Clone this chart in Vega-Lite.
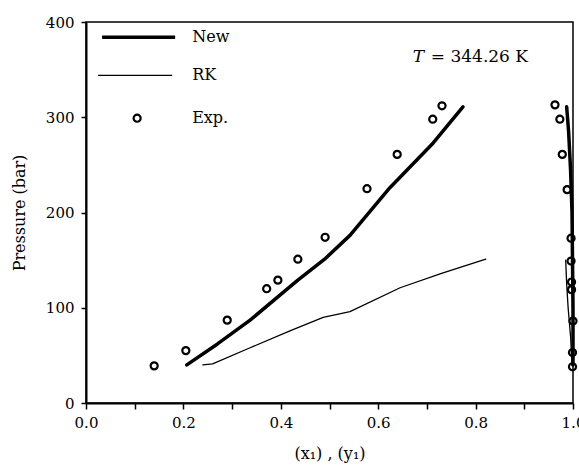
{
  "$schema": "https://vega.github.io/schema/vega-lite/v6.json",
  "width": 487,
  "height": 381,
  "autosize": {"type": "none"},
  "padding": {"left": 86, "top": 22, "right": 6, "bottom": 71},
  "background": "white",
  "config": {
    "view": {"stroke": "black", "strokeWidth": 1.5},
    "font": "DejaVu Serif",
    "axis": {
      "grid": false,
      "domainColor": "black",
      "domainWidth": 2,
      "tickColor": "black",
      "tickWidth": 1.5,
      "labelColor": "black",
      "titleColor": "black",
      "labelFont": "DejaVu Serif",
      "titleFont": "DejaVu Serif",
      "labelFontSize": 15,
      "titleFontSize": 16,
      "titleFontWeight": "normal"
    }
  },
  "datasets": {
    "lines": [
      {"curve": "New-L", "method": "New", "o": 1, "x": 0.207, "P": 40},
      {"curve": "New-L", "method": "New", "o": 2, "x": 0.27, "P": 62},
      {"curve": "New-L", "method": "New", "o": 3, "x": 0.337, "P": 87},
      {"curve": "New-L", "method": "New", "o": 4, "x": 0.435, "P": 129},
      {"curve": "New-L", "method": "New", "o": 5, "x": 0.49, "P": 151},
      {"curve": "New-L", "method": "New", "o": 6, "x": 0.542, "P": 176},
      {"curve": "New-L", "method": "New", "o": 7, "x": 0.624, "P": 226},
      {"curve": "New-L", "method": "New", "o": 8, "x": 0.713, "P": 273},
      {"curve": "New-L", "method": "New", "o": 9, "x": 0.774, "P": 311},
      {"curve": "New-V", "method": "New", "o": 1, "x": 0.987, "P": 311},
      {"curve": "New-V", "method": "New", "o": 2, "x": 0.991, "P": 285},
      {"curve": "New-V", "method": "New", "o": 3, "x": 0.995, "P": 245},
      {"curve": "New-V", "method": "New", "o": 4, "x": 0.998, "P": 200},
      {"curve": "New-V", "method": "New", "o": 5, "x": 0.999, "P": 150},
      {"curve": "New-V", "method": "New", "o": 6, "x": 1.0, "P": 100},
      {"curve": "New-V", "method": "New", "o": 7, "x": 1.0, "P": 40},
      {"curve": "RK-L", "method": "RK", "o": 1, "x": 0.24, "P": 40},
      {"curve": "RK-L", "method": "RK", "o": 2, "x": 0.26, "P": 41},
      {"curve": "RK-L", "method": "RK", "o": 3, "x": 0.337, "P": 58},
      {"curve": "RK-L", "method": "RK", "o": 4, "x": 0.42, "P": 76},
      {"curve": "RK-L", "method": "RK", "o": 5, "x": 0.487, "P": 90},
      {"curve": "RK-L", "method": "RK", "o": 6, "x": 0.542, "P": 96},
      {"curve": "RK-L", "method": "RK", "o": 7, "x": 0.645, "P": 121},
      {"curve": "RK-L", "method": "RK", "o": 8, "x": 0.73, "P": 136},
      {"curve": "RK-L", "method": "RK", "o": 9, "x": 0.821, "P": 151},
      {"curve": "RK-V", "method": "RK", "o": 1, "x": 0.985, "P": 150},
      {"curve": "RK-V", "method": "RK", "o": 2, "x": 0.987, "P": 125},
      {"curve": "RK-V", "method": "RK", "o": 3, "x": 0.99, "P": 100},
      {"curve": "RK-V", "method": "RK", "o": 4, "x": 0.995, "P": 70},
      {"curve": "RK-V", "method": "RK", "o": 5, "x": 0.998, "P": 40}
    ],
    "exp": [
      {"x": 0.14, "P": 39},
      {"x": 0.205, "P": 55},
      {"x": 0.29, "P": 87},
      {"x": 0.371, "P": 120},
      {"x": 0.394, "P": 129},
      {"x": 0.435, "P": 151},
      {"x": 0.491, "P": 174},
      {"x": 0.577, "P": 225},
      {"x": 0.639, "P": 261},
      {"x": 0.712, "P": 298},
      {"x": 0.731, "P": 312},
      {"x": 0.963, "P": 313},
      {"x": 0.973, "P": 298},
      {"x": 0.978, "P": 261},
      {"x": 0.988, "P": 224},
      {"x": 0.996, "P": 173},
      {"x": 0.996, "P": 149},
      {"x": 0.997, "P": 127},
      {"x": 0.997, "P": 119},
      {"x": 1.0, "P": 86},
      {"x": 0.999, "P": 53},
      {"x": 0.999, "P": 38}
    ],
    "legendLines": [
      {"method": "New", "x": 0.033, "x2": 0.183, "P": 384},
      {"method": "RK", "x": 0.025, "x2": 0.177, "P": 344}
    ],
    "legendPoint": [
      {"x": 0.105, "P": 299}
    ],
    "legendText": [
      {"t": "New", "x": 0.218, "P": 384},
      {"t": "RK", "x": 0.218, "P": 344},
      {"t": "Exp.", "x": 0.218, "P": 299}
    ],
    "tItalic": [
      {"t": "T", "x": 0.671, "P": 363}
    ],
    "tRest": [
      {"t": "= 344.26  K", "x": 0.708, "P": 363}
    ]
  },
  "encoding": {
    "x": {
      "field": "x", "type": "quantitative",
      "scale": {"domain": [0, 1], "nice": false, "zero": false},
      "axis": {
        "title": "(x₁) , (y₁)",
        "values": [0, 0.1, 0.2, 0.3, 0.4, 0.5, 0.6, 0.7, 0.8, 0.9, 1.0],
        "labelExpr": "round(datum.value*10) % 2 === 0 ? format(datum.value, '.1f') : ''",
        "tickSize": 6,
        "labelPadding": 6,
        "titlePadding": 15,
        "labelFlush": false
      }
    },
    "y": {
      "field": "P", "type": "quantitative",
      "scale": {"domain": [0, 400], "nice": false},
      "axis": {
        "title": "Pressure (bar)",
        "values": [0, 100, 200, 300, 400],
        "tickSize": 5,
        "labelPadding": 7,
        "titlePadding": 18
      }
    }
  },
  "layer": [
    {
      "data": {"name": "lines"},
      "mark": {"type": "line", "color": "black", "strokeCap": "round", "strokeJoin": "round"},
      "encoding": {
        "detail": {"field": "curve"},
        "order": {"field": "o"},
        "strokeWidth": {
          "field": "method", "type": "nominal",
          "scale": {"domain": ["New", "RK"], "range": [3.5, 1.3]},
          "legend": null
        }
      }
    },
    {
      "data": {"name": "exp"},
      "mark": {"type": "point", "filled": false, "color": "black", "strokeWidth": 2.2, "size": 50, "opacity": 1}
    },
    {
      "data": {"name": "legendLines"},
      "mark": {"type": "rule", "color": "black"},
      "encoding": {
        "x2": {"field": "x2"},
        "strokeWidth": {
          "field": "method", "type": "nominal",
          "scale": {"domain": ["New", "RK"], "range": [3.5, 1.3]},
          "legend": null
        }
      }
    },
    {
      "data": {"name": "legendPoint"},
      "mark": {"type": "point", "filled": false, "color": "black", "strokeWidth": 2.2, "size": 50, "opacity": 1}
    },
    {
      "data": {"name": "legendText"},
      "mark": {"type": "text", "align": "left", "baseline": "middle", "font": "DejaVu Serif", "fontSize": 16, "color": "black"},
      "encoding": {"text": {"field": "t"}}
    },
    {
      "data": {"name": "tItalic"},
      "mark": {"type": "text", "align": "left", "baseline": "middle", "font": "DejaVu Serif", "fontStyle": "italic", "fontSize": 17, "color": "black"},
      "encoding": {"text": {"field": "t"}}
    },
    {
      "data": {"name": "tRest"},
      "mark": {"type": "text", "align": "left", "baseline": "middle", "font": "DejaVu Serif", "fontSize": 17, "color": "black"},
      "encoding": {"text": {"field": "t"}}
    }
  ]
}
